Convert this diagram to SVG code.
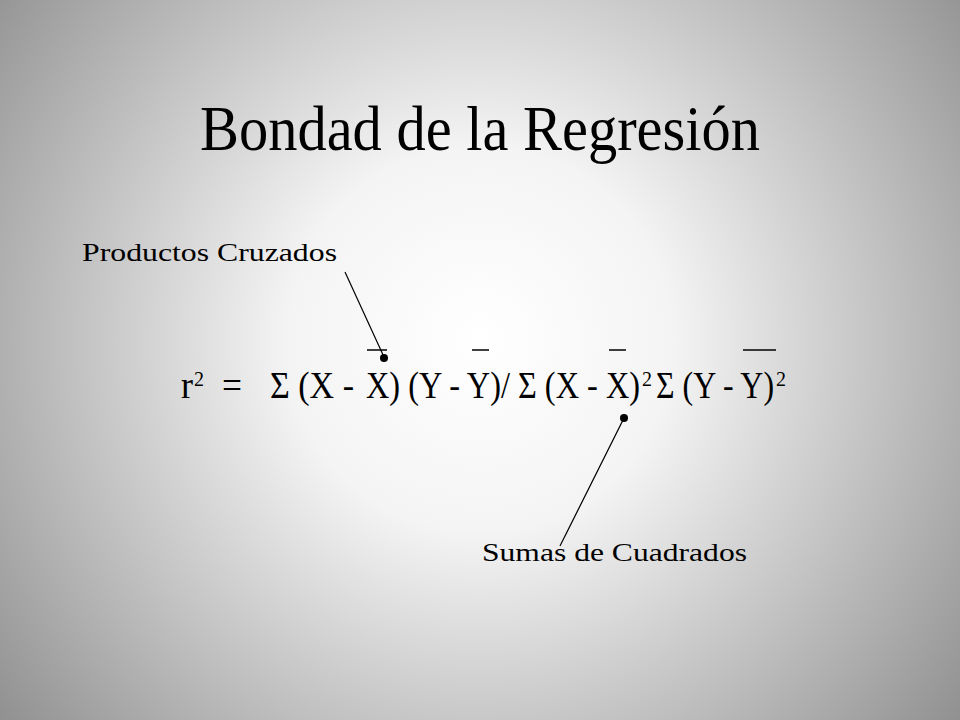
<svg xmlns="http://www.w3.org/2000/svg" width="960" height="720" viewBox="0 0 960 720">
<defs>
<radialGradient id="bg" cx="480" cy="340" r="640" gradientUnits="userSpaceOnUse">
<stop offset="0" stop-color="#ffffff"/><stop offset="0.3" stop-color="#f4f4f4"/><stop offset="1" stop-color="#8a8a8a"/>
</radialGradient>
<style>
text{font-family:"Liberation Serif","Times New Roman",serif;fill:#000}
.f{font-size:37px}.s{font-size:21px}.l{font-size:26px}
.c{stroke:#000;stroke-width:1.2;fill:none}
</style>
</defs>
<rect width="960" height="720" fill="url(#bg)"/>
<g id="title"><text x="200" y="150" font-size="64" textLength="560" lengthAdjust="spacingAndGlyphs">Bondad de la Regresión</text></g>
<g id="productos"><text class="l" x="82" y="261" textLength="255" lengthAdjust="spacingAndGlyphs">Productos Cruzados</text></g>
<g id="sumas"><text class="l" x="482" y="561" textLength="265" lengthAdjust="spacingAndGlyphs">Sumas de Cuadrados</text></g>
<g id="formula">
<text class="f" x="181" y="398" textLength="12" lengthAdjust="spacingAndGlyphs">r</text><text class="s" x="194" y="386" textLength="10" lengthAdjust="spacingAndGlyphs">2</text>
<text class="f" x="222" y="398" textLength="20" lengthAdjust="spacingAndGlyphs">=</text>
<text class="f" x="270" y="398" textLength="84" lengthAdjust="spacingAndGlyphs">Σ (X -</text>
<text class="f" x="366" y="398" textLength="274" lengthAdjust="spacingAndGlyphs">X) (Y - Y)/ Σ (X - X)</text>
<text class="s" x="642" y="386" textLength="10" lengthAdjust="spacingAndGlyphs">2</text>
<text class="f" x="656" y="398" textLength="118" lengthAdjust="spacingAndGlyphs">Σ (Y - Y)</text>
<text class="s" x="776" y="386" textLength="10" lengthAdjust="spacingAndGlyphs">2</text>
<g stroke="#000" stroke-width="1.5">
<line x1="367" y1="350" x2="387" y2="350"/><line x1="472" y1="350" x2="489" y2="350"/>
<line x1="609" y1="350" x2="626" y2="350"/><line x1="743" y1="350" x2="776" y2="350"/>
</g>
</g>
<g id="connectors">
<line class="c" x1="345" y1="272" x2="384" y2="357"/><circle cx="384" cy="358" r="4"/>
<line class="c" x1="624" y1="418" x2="560" y2="546"/><circle cx="624" cy="418" r="4"/>
</g>
</svg>
